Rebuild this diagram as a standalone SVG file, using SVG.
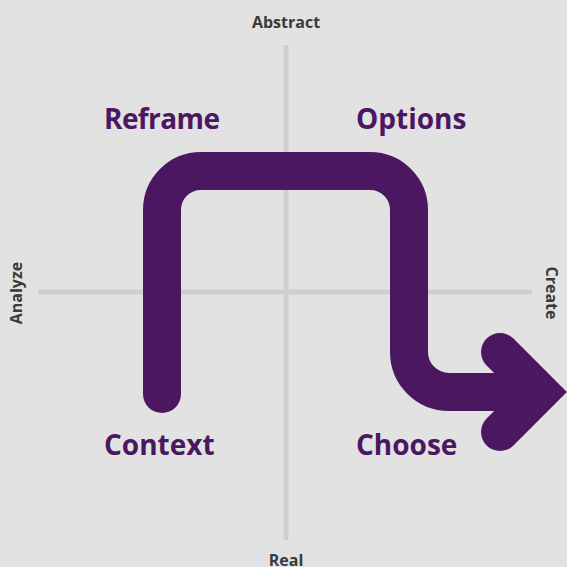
<svg xmlns="http://www.w3.org/2000/svg" width="567" height="567" viewBox="0 0 567 567">
<style>
.axis{stroke:#cfcfcf;stroke-width:5;fill:none}
.big{font-family:"Open Sans","Noto Sans",sans-serif;font-weight:bold;font-size:28px;fill:#4b1760}
.ax{font-family:"Open Sans","Noto Sans",sans-serif;font-weight:bold;font-size:16px;fill:#3a3a3a;text-anchor:middle}
.flow{stroke:#4b1760;stroke-width:38;fill:none}
</style>
<rect width="567" height="567" fill="#e2e2e2"/>
<g id="axes">
<line class="axis" x1="286" y1="45" x2="286" y2="540"/>
<line class="axis" x1="38" y1="292" x2="532" y2="292"/>
</g>
<g id="connectors">
<path class="flow" stroke-linecap="round" d="M162 394 V210 A39 39 0 0 1 201 171 H370 A39 39 0 0 1 409 210 V352 A40 40 0 0 0 449 392 H530"/>
<path class="flow" stroke-linecap="round" stroke-linejoin="miter" d="M500 352 L540 392 L500 432"/>
</g>
<g id="label-reframe"><text class="big" x="104" y="129" letter-spacing="-0.6">Reframe</text></g>
<g id="label-options"><text class="big" x="356" y="129">Options</text></g>
<g id="label-context"><text class="big" x="104" y="455">Context</text></g>
<g id="label-choose"><text class="big" x="356" y="455">Choose</text></g>
<g id="axis-abstract"><text class="ax" x="286" y="28">Abstract</text></g>
<g id="axis-real"><text class="ax" x="286" y="566">Real</text></g>
<g id="axis-analyze"><text class="ax" transform="translate(22 293) rotate(-90)">Analyze</text></g>
<g id="axis-create"><text class="ax" transform="translate(546 293) rotate(90)">Create</text></g>
</svg>
